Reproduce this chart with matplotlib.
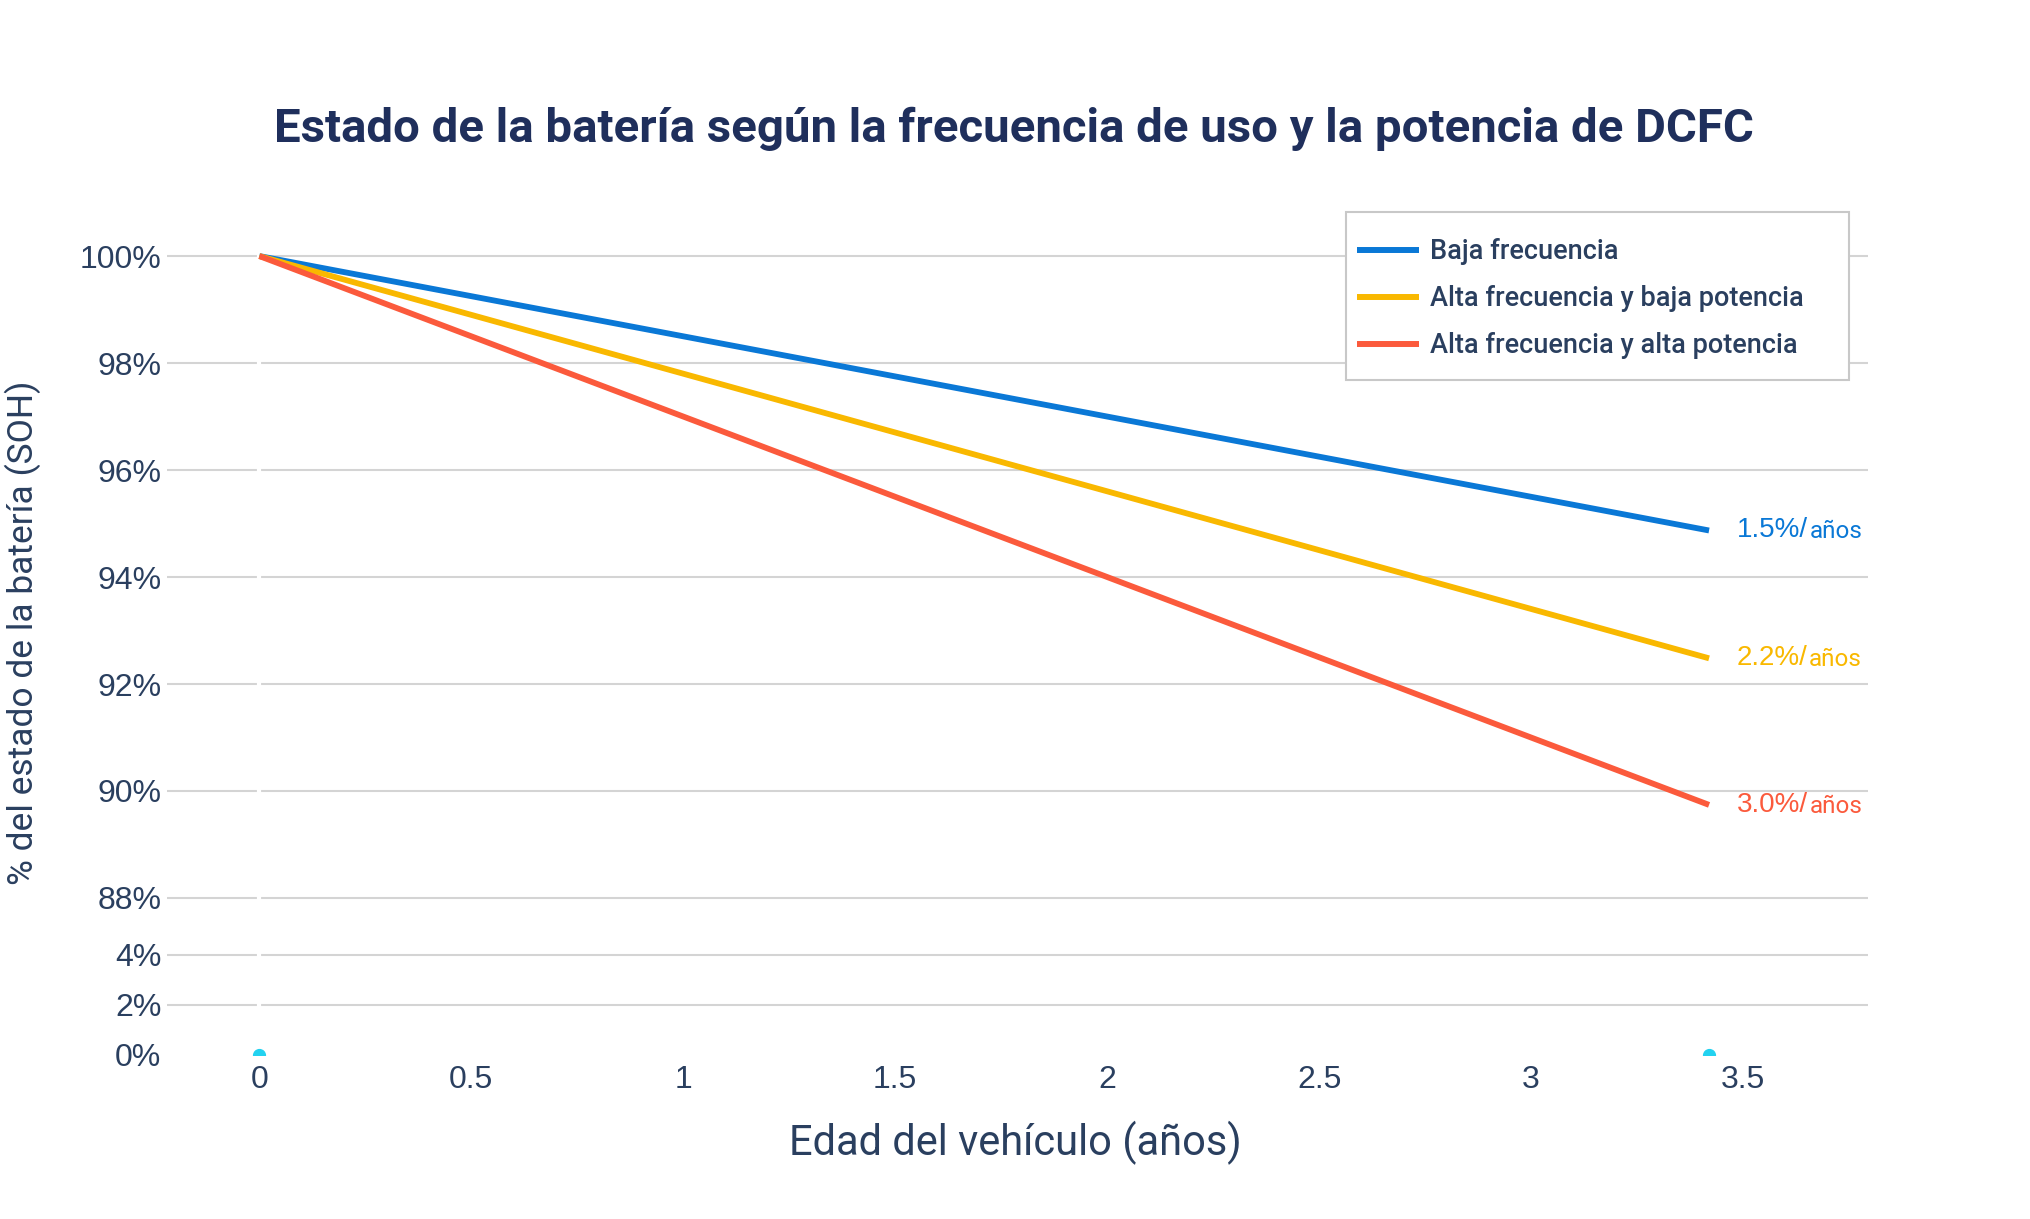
import matplotlib
matplotlib.use("Agg")
import matplotlib.pyplot as plt
from matplotlib.patches import Rectangle

# 데이터
years = [0, 3.42]
baja = [100, 94.87]
alta_baja = [100, 92.48]
alta_alta = [100, 89.74]
series_names = ["Baja frecuencia", "Alta frecuencia y baja potencia", "Alta frecuencia y alta potencia"]
rates = ["1.5%/", "2.2%/", "3.0%/"]
colors = ["#0a78d6", "#f9b800", "#fb5a3c"]

ticks_top = [88, 90, 92, 94, 96, 98, 100]
ticks_bottom = [0, 2, 4]
xticks = [0, 0.5, 1, 1.5, 2, 2.5, 3, 3.5]
xtick_labels = ["0", "0.5", "1", "1.5", "2", "2.5", "3", "3.5"]
marker_x = [0, 3.42]
marker_y = [0, 0]

text_color = "#2a3f5f"
title_color = "#1f2f5c"
grid_color = "#d4d4d4"
tick_font = ["Liberation Sans", "DejaVu Sans"]
label_font = ["Roboto", "DejaVu Sans"]

W, H = 2031, 1219
fig = plt.figure(figsize=(W / 100, H / 100), dpi=100)

left, right = 167 / W, 1868 / W
y_top, y_mid, y_bot = 232, 926, 1055
ax = fig.add_axes([left, 1 - y_mid / H, right - left, (y_mid - y_top) / H])
ax2 = fig.add_axes([left, 1 - y_bot / H, right - left, (y_bot - y_mid) / H])

xlim = (-0.218, 3.795)
for a in (ax, ax2):
    a.set_xlim(*xlim)
    for s in a.spines.values():
        s.set_visible(False)
    a.grid(axis="y", color=grid_color, linewidth=1.5, zorder=0)
    a.set_axisbelow(True)
    a.axvline(0, color="white", linewidth=3, zorder=1)
    a.tick_params(length=0, labelsize=23, labelcolor=text_color, pad=4)

ax.set_ylim(87.476, 100.45)
ax.set_yticks(ticks_top)
ax.set_yticklabels([f"{t}%" for t in ticks_top], fontfamily=tick_font)
ax.set_xticks([])

ax2.set_ylim(0, 5.16)
ax2.set_yticks(ticks_bottom)
ax2.set_yticklabels([f"{t}%" for t in ticks_bottom], fontfamily=tick_font)
ax2.get_ygridlines()[0].set_visible(False)
ax2.set_xticks(xticks)
ax2.set_xticklabels(xtick_labels, fontfamily=tick_font)
ax2.tick_params(axis="x", pad=7)

# 선
for vals, name, c, r in zip([baja, alta_baja, alta_alta], series_names, colors, rates):
    ax.plot(years, vals, color=c, linewidth=4.2, label=name, zorder=3, solid_capstyle="butt")
    t = ax.annotate(r, xy=(years[-1], vals[-1]), xytext=(20, 0), textcoords="offset points",
                    ha="left", va="center", fontsize=20, color=c, fontfamily=tick_font)
    ax.annotate("años", xy=(1, 0), xycoords=t, xytext=(1, 0), textcoords="offset points",
                ha="left", va="bottom", fontsize=17.5, color=c, fontfamily=label_font)

# 아래쪽 점
ax2.plot(marker_x, marker_y, "o", color="#22d2f0", markersize=8.5, zorder=4, clip_on=True)

# 범례 (테두리는 따로 그림)
ax.add_patch(Rectangle((1346 / W, 1 - 380 / H), (1849 - 1346) / W, (380 - 212) / H,
                       transform=fig.transFigure, facecolor="white", edgecolor="#c8c8c8",
                       linewidth=1.5, zorder=4, clip_on=False))
leg = ax.legend(loc="upper left", bbox_to_anchor=(1357 / W, 1 - 238 / H), bbox_transform=fig.transFigure,
                prop={"family": label_font, "weight": "medium", "size": 19.5},
                handlelength=2.3, handletextpad=0.4, labelspacing=0.74, borderpad=0,
                borderaxespad=0, frameon=False)
leg.set_zorder(5)
for txt in leg.get_texts():
    txt.set_color(text_color)
for h in leg.get_lines():
    h.set_linewidth(4.3)

# 제목
fig.text(1014 / W, 1 - 129 / H, "Estado de la batería según la frecuencia de uso y la potencia de DCFC",
         ha="center", va="center", fontsize=34.1, fontweight="bold", color=title_color, fontfamily=label_font)
fig.text(1015 / W, 1 - 1143 / H, "Edad del vehículo (años)", ha="center", va="center",
         fontsize=30, color=text_color, fontfamily=label_font)
fig.text(23 / W, 1 - 633 / H, "% del estado de la batería (SOH)", ha="center", va="center",
         rotation=90, fontsize=25.5, color=text_color, fontfamily=label_font)

fig.savefig("out.png", dpi=100, facecolor="white")
